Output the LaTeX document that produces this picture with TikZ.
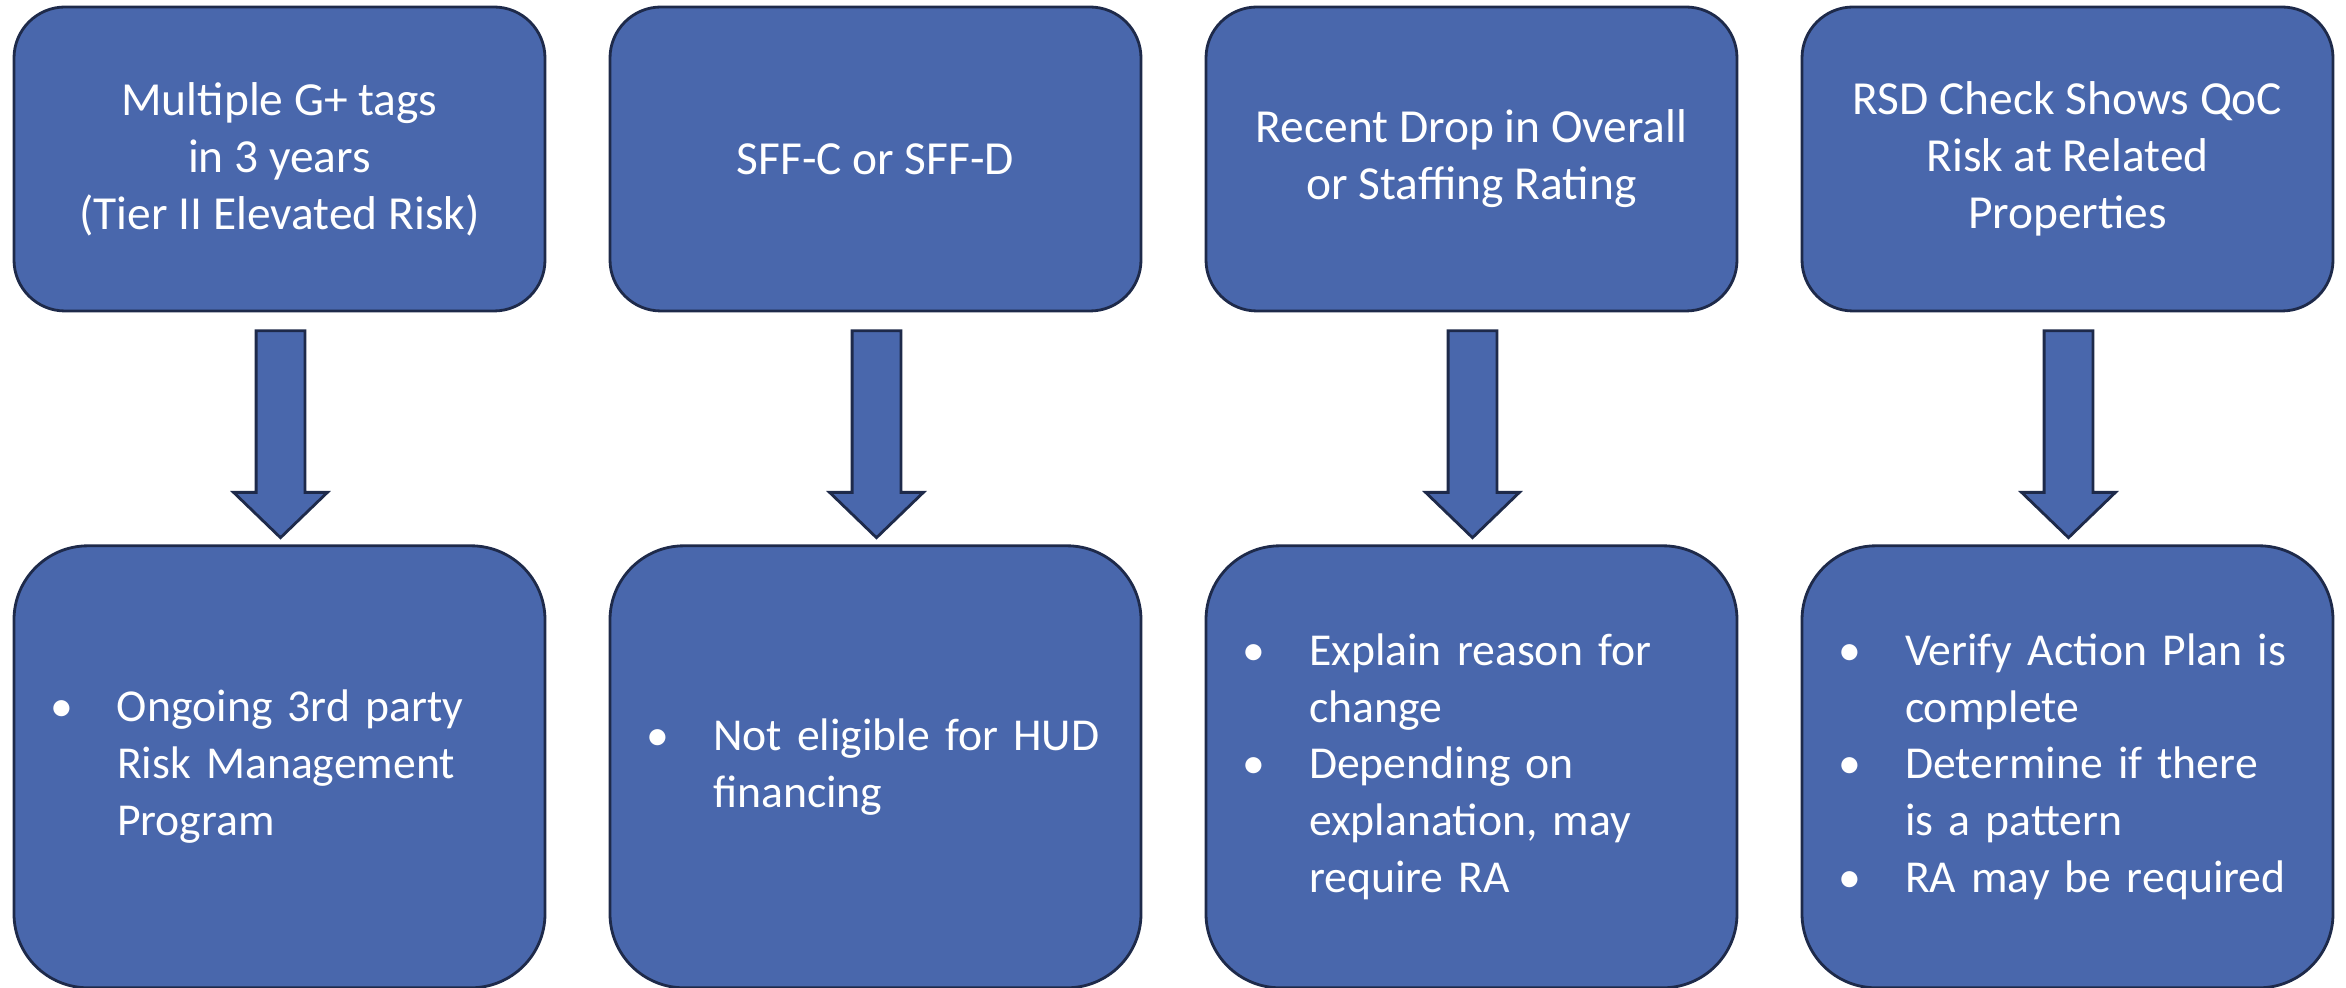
\documentclass[tikz,border=0pt]{standalone}
\usepackage{fontspec}
\setmainfont{Carlito}
\usepackage{xcolor}
\usepackage{tikz}
\usetikzlibrary{shapes}
\usetikzlibrary{positioning}
\usetikzlibrary{calc}
\definecolor{boxblue}{RGB}{73,103,172}
\definecolor{edgeblue}{RGB}{30,42,74}
\newcommand{\bulletindent}{\parindent=0pt\leftskip=0.88cm\rightskip=0pt plus 1fil\relax}
\newcommand{\bul}{\leavevmode\llap{\textbullet\hspace{0.44cm}}}
\tikzset{
	top node/.style={rectangle,draw=edgeblue,fill=boxblue,line width=0.8pt,rounded corners=0.51cm,
		minimum width=5.31cm,minimum height=3.04cm,align=center,text=white,
		font=\fontsize{13.5pt}{16.2pt}\selectfont},
	bottom node/.style={rectangle,draw=edgeblue,fill=boxblue,line width=0.8pt,rounded corners=0.74cm,
		minimum width=5.31cm,minimum height=4.42cm,text width=5.01cm,inner xsep=0.15cm,align=left,
		text=white,font=\fontsize{13pt}{16.2pt}\selectfont},
	down arrow/.style={single arrow,draw=edgeblue,fill=boxblue,line width=0.8pt,rotate=-90,
		minimum height=2.07cm,single arrow head extend=0.225cm,
		single arrow tip angle=92,inner xsep=0pt,inner ysep=0.23cm}
}

\begin{document}
\begin{tikzpicture}[node distance=2.32cm]
	\useasboundingbox (0,0) rectangle (23.46,-9.88);
	\node [top node] (t1) at (2.795,-1.59) {Multiple G+ tags\\in 3 years\\(Tier II Elevated Risk)};
	\node [top node] (t2) at (8.755,-1.59) {SFF-C or SFF-D};
	\node [top node] (t3) at (14.715,-1.59) {Recent Drop in Overall\\or Staffing Rating};
	\node [top node] (t4) at (20.675,-1.59) {RSD Check Shows QoC\\Risk at Related\\Properties};
	\node [bottom node,below=of t1] (b1) {\bulletindent\bul Ongoing 3rd party\\Risk Management\\Program\par};
	\node [bottom node,below=of t2] (b2) {\bulletindent\bul Not eligible for HUD\\financing\par};
	\node [bottom node,below=of t3] (b3) {\bulletindent\bul Explain reason for\\change\\
		\bul Depending on\\explanation, may\\require RA\par};
	\node [bottom node,below=of t4] (b4) {\bulletindent\bul Verify Action Plan is\\complete\\
		\bul Determine if there\\is a pattern\\\bul RA may be required\par};
	\foreach \i in {1,...,4}
		\node [down arrow,xshift=-0.06cm,yshift=0.01cm] (a\i) at ($(t\i.south)!0.5!(b\i.north)$) {};
\end{tikzpicture}
\end{document}
